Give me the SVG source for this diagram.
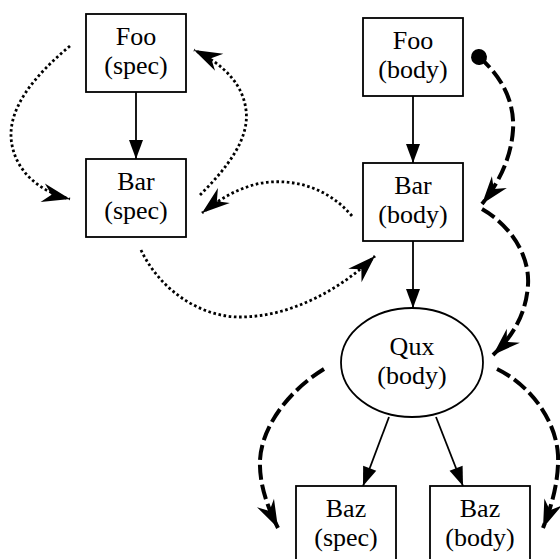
<svg xmlns="http://www.w3.org/2000/svg" width="560" height="559" viewBox="0 0 560 559">
<style>
.box{fill:#fff;stroke:#000;stroke-width:1.8}
.solid{fill:none;stroke:#000;stroke-width:1.8}
.dot{fill:none;stroke:#000;stroke-width:2.8;stroke-dasharray:2.6 2.6}
.dash{fill:none;stroke:#000;stroke-width:4;stroke-dasharray:15 5}
</style>
<defs>
<marker id="tri" markerUnits="userSpaceOnUse" viewBox="-20 -8 21 16" refX="0" refY="0" markerWidth="21" markerHeight="16" orient="auto">
<path d="M0,0 L-19,-7 L-19,7 Z" fill="#000"/>
</marker>
<marker id="vee" markerUnits="userSpaceOnUse" viewBox="-30 -12 31 24" refX="0" refY="0" markerWidth="31" markerHeight="24" orient="auto">
<path d="M0,0 L-28,-9.5 L-19,0 L-28,9.5 Z" fill="#000"/>
</marker>
<marker id="ball" markerUnits="userSpaceOnUse" viewBox="-9 -9 18 18" refX="0" refY="0" markerWidth="18" markerHeight="18" orient="auto">
<circle cx="0" cy="0" r="8" fill="#000"/>
</marker>
</defs>
<g id="edges">
<path class="solid" d="M136,92 L136,159" marker-end="url(#tri)"/>
<path class="solid" d="M413,96 L413,163" marker-end="url(#tri)"/>
<path class="solid" d="M413,241 L413,308" marker-end="url(#tri)"/>
<path class="solid" d="M389,417 L363,486" marker-end="url(#tri)"/>
<path class="solid" d="M436,417 L463,486" marker-end="url(#tri)"/>
<path class="dot" d="M70,46 C35,75 5,110 12,145 C17,172 40,192 70,199" marker-end="url(#vee)"/>
<path class="dot" d="M200,195 C225,170 250,140 246,110 C243,85 225,65 194,50" marker-end="url(#vee)"/>
<path class="dot" d="M352,216 C330,190 300,180 270,182 C245,184 222,197 202,213" marker-end="url(#vee)"/>
<path class="dot" d="M141,250 C160,290 200,317 240,317 C290,317 340,290 375,256" marker-end="url(#vee)"/>
<path class="dash" d="M479,57 C500,75 515,100 513,130 C511,160 497,185 482,204" marker-start="url(#ball)" marker-end="url(#vee)"/>
<path class="dash" d="M482,209 C510,225 530,255 528,285 C526,315 512,337 493,355" marker-end="url(#vee)"/>
<path class="dash" d="M324,369 C290,390 262,425 260,460 C259,485 268,508 278,528" marker-end="url(#vee)"/>
<path class="dash" d="M497,369 C530,385 556,420 558,455 C559,480 552,505 543,528" marker-end="url(#vee)"/>
</g>
<g font-family="Liberation Serif" font-size="26" text-anchor="middle" fill="#000">
<g id="foo_spec">
<rect class="box" x="86" y="14" width="100" height="78"/>
<text x="136" y="45">Foo</text>
<text x="136" y="74">(spec)</text>
</g>
<g id="bar_spec">
<rect class="box" x="86" y="159" width="100" height="78"/>
<text x="136" y="190">Bar</text>
<text x="136" y="219">(spec)</text>
</g>
<g id="foo_body">
<rect class="box" x="363" y="18" width="100" height="78"/>
<text x="413" y="49">Foo</text>
<text x="413" y="78">(body)</text>
</g>
<g id="bar_body">
<rect class="box" x="363" y="163" width="100" height="78"/>
<text x="413" y="194">Bar</text>
<text x="413" y="223">(body)</text>
</g>
<g id="qux_body">
<ellipse class="box" cx="412" cy="362.5" rx="71" ry="54.5"/>
<text x="412" y="355">Qux</text>
<text x="412" y="384">(body)</text>
</g>
<g id="baz_spec">
<rect class="box" x="296" y="486" width="100" height="78"/>
<text x="346" y="517">Baz</text>
<text x="346" y="546">(spec)</text>
</g>
<g id="baz_body">
<rect class="box" x="430" y="486" width="100" height="78"/>
<text x="480" y="517">Baz</text>
<text x="480" y="546">(body)</text>
</g>
</g>
</svg>
